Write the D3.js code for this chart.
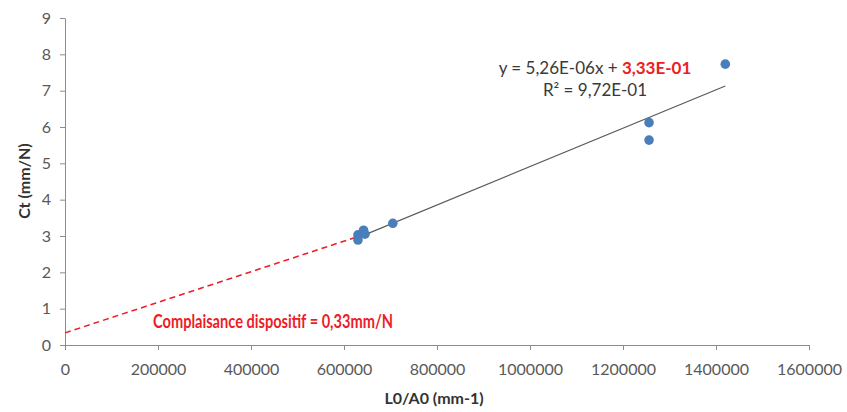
<!DOCTYPE html>
<html>
<head>
<meta charset="utf-8">
<script src="https://cdn.jsdelivr.net/npm/d3@7/dist/d3.min.js"></script>
<style>
  html, body { margin: 0; padding: 0; background: #fff; }
  svg { display: block; }
  text { font-family: Lato, sans-serif; }
</style>
</head>
<body>
<svg id="chart" width="847" height="412"></svg>
<script>
// Measurements: specimen length / section ratio (mm-1) vs total compliance (mm/N)
const lengthOverArea = [630000, 630000, 642000, 645000, 705000, 1256000, 1256000, 1420000];
const compliance     = [3.03, 2.89, 3.16, 3.05, 3.35, 5.64, 6.12, 7.73];

// Tick values for both axes
const xTicks = [0, 200000, 400000, 600000, 800000, 1000000, 1200000, 1400000, 1600000];
const yTicks = [0, 1, 2, 3, 4, 5, 6, 7, 8, 9];

// Device compliance (intercept stated on the chart) and where the dashed extrapolation meets the fit
const deviceCompliance = 0.333;
const dashEndX = 656000;

// Text shown on the chart
const eqPrefix = "y = 5,26E-06x + ";
const eqIntercept = "3,33E-01";
const r2Text = "R² = 9,72E-01";
const deviceLabel = "Complaisance dispositif = 0,33mm/N";
const xTitle = "L0/A0 (mm-1)";
const yTitle = "Ct (mm/N)";

const svg = d3.select("#chart");
const plotLeft = 65, plotRight = 809, plotTop = 18, plotBottom = 345;

const x = d3.scaleLinear().domain([0, 1600000]).range([plotLeft, plotRight]);
const y = d3.scaleLinear().domain([0, 9]).range([plotBottom, plotTop]);

const axisColor = "#8c8c8c";
const labelColor = "#595959";
const red = "#ee1c25";
const fontStack = "Lato, sans-serif";

// Axes
const gx = svg.append("g")
  .attr("transform", `translate(0,${plotBottom})`)
  .call(d3.axisBottom(x).tickValues(xTicks).tickFormat(d3.format("d")).tickSize(5).tickPadding(14).tickSizeOuter(0));
const gy = svg.append("g")
  .attr("transform", `translate(${plotLeft},0)`)
  .call(d3.axisLeft(y).tickValues(yTicks).tickFormat(d3.format("d")).tickSize(5).tickPadding(9).tickSizeOuter(0));

[gx, gy].forEach(g => {
  g.select(".domain").attr("stroke", axisColor).attr("stroke-width", 1);
  g.selectAll(".tick line").attr("stroke", axisColor);
  g.selectAll(".tick text").attr("fill", labelColor).style("font-size", "16px")
    .style("font-family", fontStack);
});

// Least-squares fit over the measurements
const n = lengthOverArea.length;
const mx = d3.mean(lengthOverArea), my = d3.mean(compliance);
let sxy = 0, sxx = 0;
for (let i = 0; i < n; i++) {
  sxy += (lengthOverArea[i] - mx) * (compliance[i] - my);
  sxx += (lengthOverArea[i] - mx) ** 2;
}
const slope = sxy / sxx;
const intercept = my - slope * mx;
const fit = v => slope * v + intercept;
const [xmin, xmax] = d3.extent(lengthOverArea);

// Dashed extrapolation down to the device compliance at x = 0
svg.append("line")
  .attr("x1", x(0)).attr("y1", y(deviceCompliance))
  .attr("x2", x(dashEndX)).attr("y2", y(fit(dashEndX)))
  .attr("stroke", red).attr("stroke-width", 1.5)
  .attr("stroke-dasharray", "6,4");

// Trend line
svg.append("line")
  .attr("x1", x(xmin)).attr("y1", y(fit(xmin)))
  .attr("x2", x(xmax)).attr("y2", y(fit(xmax)))
  .attr("stroke", "#5a5a5a").attr("stroke-width", 1.2);

// Points
svg.append("g").selectAll("circle")
  .data(lengthOverArea.map((v, i) => [v, compliance[i]]))
  .join("circle")
  .attr("cx", d => x(d[0])).attr("cy", d => y(d[1]))
  .attr("r", 4.8)
  .attr("fill", "#4a7ebb");

// Equation and R²
const eq = svg.append("text")
  .attr("x", 595).attr("y", 74)
  .attr("text-anchor", "middle")
  .style("font-size", "17px")
  .style("font-family", fontStack)
  .attr("fill", "#3a3a3a");
eq.append("tspan").text(eqPrefix);
eq.append("tspan").text(eqIntercept).attr("fill", red).attr("font-weight", "bold");

svg.append("text")
  .attr("x", 595).attr("y", 96)
  .attr("text-anchor", "middle")
  .style("font-size", "17px")
  .style("font-family", fontStack)
  .attr("fill", "#3a3a3a")
  .text(r2Text);

// Device compliance annotation
svg.append("text")
  .attr("x", 153).attr("y", 328)
  .style("font-size", "18px")
  .style("font-family", fontStack)
  .attr("font-weight", "bold")
  .attr("fill", red)
  .attr("textLength", 240)
  .attr("lengthAdjust", "spacingAndGlyphs")
  .text(deviceLabel);

// Axis titles
svg.append("text")
  .attr("x", 434).attr("y", 404)
  .attr("text-anchor", "middle")
  .style("font-size", "16px")
  .style("font-family", fontStack)
  .attr("font-weight", "bold")
  .attr("fill", "#333")
  .text(xTitle);

svg.append("text")
  .attr("transform", `translate(30,181) rotate(-90)`)
  .attr("text-anchor", "middle")
  .style("font-size", "16px")
  .style("font-family", fontStack)
  .attr("font-weight", "bold")
  .attr("fill", "#333")
  .text(yTitle);
</script>
</body>
</html>
